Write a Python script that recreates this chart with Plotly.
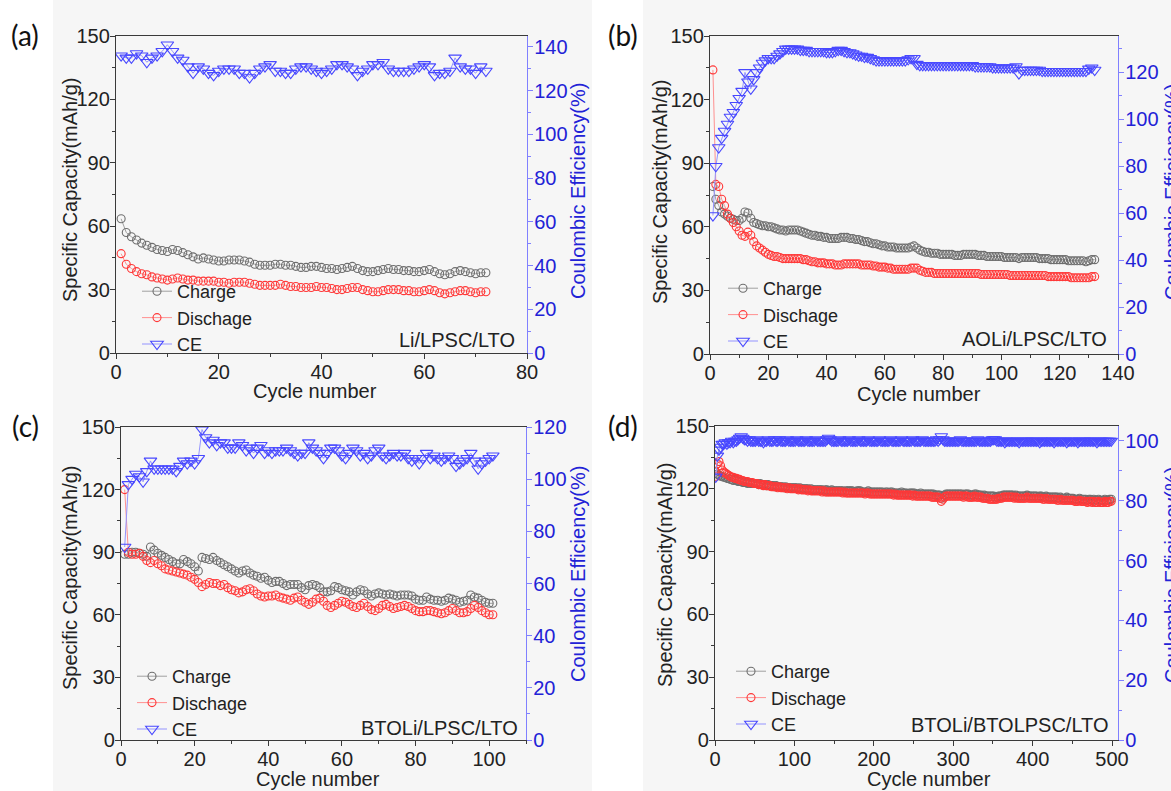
import plotly.graph_objects as go

# ---------------- data ----------------
# (a) Li/LPSC/LTO
a_charge = [63.5,57.0,55.0,53.5,52.0,51.0,50.0,49.0,48.5,48.0,
            49.0,48.5,47.5,46.5,45.5,44.5,45.0,44.5,44.0,43.5,
            43.5,44.0,44.0,44.0,43.5,43.0,42.0,41.5,41.5,41.5,
            42.0,42.0,41.5,41.5,41.0,40.5,40.5,41.0,41.0,40.5,
            40.0,40.0,39.5,40.0,40.5,41.0,40.0,39.0,38.5,38.5,
            39.0,39.5,40.0,39.5,39.5,39.0,39.0,38.5,38.5,39.0,
            39.5,38.5,37.5,37.0,37.5,38.5,39.0,38.5,38.0,37.5,
            38.0,38.0]
a_discharge = [47.0,42.0,40.0,38.5,37.5,37.0,36.0,35.5,35.0,34.5,
               35.0,35.5,35.0,34.5,34.5,34.0,34.0,34.0,34.0,33.5,
               33.5,33.0,33.5,33.5,33.5,33.0,32.5,32.0,32.0,32.0,
               32.0,32.5,32.0,31.5,31.5,31.0,31.0,31.0,31.5,31.0,
               31.0,30.5,30.0,30.0,30.5,31.0,31.0,30.0,29.5,29.0,
               29.0,29.5,30.0,30.0,30.0,29.5,29.5,29.0,29.0,29.5,
               30.0,29.5,28.5,28.0,28.5,29.0,29.5,29.5,29.0,28.5,
               29.0,29.0]
a_ce = [136,135,135,137,136,133,135,136,138,141,
        138,135,134,131,128,131,130,128,127,129,
        130,130,130,128,128,126,128,130,131,132,
        129,129,128,128,130,131,131,130,129,128,
        129,130,132,132,131,130,127,129,130,132,
        132,133,130,129,129,129,129,130,131,132,
        131,127,128,128,129,135,131,130,130,128,
        131,129]

# (b) AOLi/LPSC/LTO
b_charge = [79,73,70,67,66,65,64,63.5,63,63,
            64,67,66.5,64,62,61.5,61,60.5,60.5,60,
            60,59.5,59,58.5,58.5,58,58.5,58.5,58.5,58.5,
            58,57.5,57,56.5,56,56,55.5,55.5,55,55,
            54.5,54.5,54.5,54.5,55,55,55,54.5,54.5,54,
            54,53.5,53,53,52.5,52,52,51.5,51,51,
            50.5,50.5,50.5,50,50,50,50,50,50.5,51,
            50,49,48.5,48,48,47.5,47.5,47.5,47,47,
            47,47,47,46.5,46.5,46.5,47,47,47,47,
            47,46.5,46.5,46.5,46,46,46,46,46,46,
            45.5,45.5,45.5,45.5,45.5,45,45.5,45.5,45.5,45.5,
            45.5,45.5,45,45,45,45,44.5,44.5,44.5,44.5,
            44.5,44.5,44,44,44,44,44,44,43.5,44,
            44.5,44.5]
b_discharge = [134,80,79,73,70,66,64,62,60,58,
               56,55.5,57.5,56,53,51,50,49,48,47,
               46.5,46,46,45.5,45,45,45,45,45,45,
               45,44.5,44.5,44,43.5,43.5,43,43,43,42.5,
               42.5,42.5,42,42,42,42.5,42.5,42.5,42.5,42.5,
               42.5,42,42,42,42,41.5,41.5,41,41,41,
               40.5,40.5,40,40,40,40,40,40,40.5,40.5,
               40.5,39.5,39,38.5,38.5,38.5,38,38,38,38,
               38,38,38,38,38,38,38,38,38,38,
               38,38,37.5,37.5,37.5,37.5,37.5,37.5,37.5,37.5,
               37.5,37.5,37,37,37,37,37,37,37,37,
               37,37,37,37,37,36.5,36.5,36.5,36.5,36.5,
               36.5,36.5,36.5,36,36,36,36,36,36,36,
               36.5,36.5]
b_ce = [59,80,88,92,95,98,101,103,106,109,
        112,120,116,113,117,120,122,124,125,126,
        126,126,127,128,129,130,130,130,130,130,
        129.5,129.5,129.5,129,129,129,129,129,129,128.5,
        128.5,128.5,129,129.5,129.5,129,128.5,128.5,128,127.5,
        127,127,126.5,126.5,126,125.5,125,125,125,125,
        125,125,125,125,125,125,125,125.5,126,126,
        123.5,123,123,123,123,123,123,123,123,123,
        123,123,123,123,123,123,123,123,123,123,
        122.5,122.5,122.5,122.5,122.5,122.5,122,122,122,122,
        122,122,122,122,122.5,119.5,121,121,121,121,
        121,121,121,120.5,120.5,120.5,120.5,120.5,120.5,120.5,
        120.5,120.5,120.5,120.5,120.5,120.5,120.5,120.5,120.5,121.5,
        122,121]

# (c) BTOLi/LPSC/LTO
c_charge = [89,89,90,90,89.5,89,88,92.5,91,89.5,
            88.5,87.5,86.5,85.5,84.5,84.5,86.5,85.5,84.5,83,
            81,87.5,87,86.5,87.5,86,85,84,83,82,
            81,80,81,81.5,80,79,78.5,77.5,78,76.5,
            75.5,76,76,75,74,74.5,74.5,74.5,73,72,
            74,74.5,74,73,71,71,71.5,73.5,73,72,
            71.5,71,69.5,71,72,71.5,70,69,70,70.5,
            70,69.5,70,69.5,69,69.5,69.5,69.5,69,67.5,
            67,67,68.5,67.5,67,67,66.5,67,68,67.5,
            67,66,66.5,67,69.5,68.5,68,67,66,65.5,
            65.5]
c_discharge = [120,90,89,89,89.5,88,86,85,86,84.5,
               83.5,82,81.5,81,80.5,80,79.5,79,78,77,
               75.5,73.5,74.5,75.5,75,75,74,74.5,73,72,
               71.5,70.5,71,72,72.5,71.5,70,69,68.5,69,
               69,69.5,68.5,68,67.5,67,68,68.5,67,66,
               65,66,67.5,68,66.5,64.5,63.5,64.5,65.5,66.5,
               66,65,64,63.5,64.5,65.5,64,62.5,62,63,
               64.5,65,64,63,63.5,64,64.5,64,63,62,
               61.5,61.5,62,62,61.5,61,60.5,61,62,63,
               62,61,61,61.5,63,64.5,63.5,62,61,60,
               60]
c_ce = [74,98,100,102,101,99,103,107,104,104,
        104,104,104,104,103,105,107,106,107,106,
        108,119,116,114,115,113,114,114,112,112,
        112,114,113,111,112,110,112,113,110,111,
        110,111,111,111,112,111,110,109,110,110,
        114,112,111,110,108,110,112,112,111,109,
        108,110,112,111,109,110,108,109,111,112,
        109,108,109,110,109,109,110,108,107,108,
        106,108,110,108,109,108,107,108,109,108,
        105,106,107,108,110,107,104,106,107,108,
        109]

# (d) BTOLi/BTOLPSC/LTO  (odd cycles 1..499)
d_charge = [128,127,126.5,126,126,125.5,125.5,125,125,124.5,124.5,124,124.5,124,123.5,123.5,123.5,123,123,123,122.5,123,122.5,122.5,122.5,
            122.5,122.5,122,122.5,122,122,122,121.5,122,121.5,121.5,121.5,121,121.5,121,121,121,121,120.5,121,120.5,120.5,120.5,120.5,120.5,
            120.5,120.5,120,120.5,120,120,120,120,120,119.5,120,119.5,119.5,119.5,119.5,119.5,119.5,119.5,119,119.5,119.5,119,119,119.5,119,
            119,119,119,119,119,119,118.5,119,119,119,119,119,118.5,118.5,119,119,119,118.5,118.5,118.5,118.5,119,118.5,118.5,118.5,
            118.5,118.5,118.5,118.5,118.5,118.5,118,118.5,118.5,118,118.5,118.5,118,118,118,118,118,118.5,118,118,118,117.5,118,118,118,
            118,117.5,117.5,117.5,118,117.5,117.5,117.5,117.5,117.5,117.5,117.5,117.5,117,117,117,117,115.5,116.5,117,117.5,117.5,117.5,117.5,117.5,
            117.5,117.5,117.5,117.5,117.5,117.5,117,117.5,117.5,117.5,117,117,117,117.5,117.5,117,117,117,116.5,117,116.5,116.5,116.5,116.5,116.5,
            116.5,116,116,116.5,116.5,116.5,117,117,117,117,117,117,117,116.5,117,116.5,116.5,116.5,116.5,116.5,116.5,117,116.5,116.5,116.5,
            116.5,116.5,116.5,116,116.5,116.5,116,116,116.5,116,116,116,116,116,116,116,115.5,116,115.5,115.5,115.5,116,115.5,115.5,115.5,
            115.5,115,115,115,115.5,115,115,115,115,114.5,115,115,114.5,115,114.5,114.5,115,114.5,114.5,114.5,115,114.5,114.5,115,115]
d_discharge = [126,132,133,131,129,128,127.5,127,126.5,126,125.5,125.5,125,125,124.5,124.5,124,124,123.5,123.5,123.5,123,123,123,122.5,
               122.5,122.5,122,122,122,121.5,122,121.5,121.5,121.5,121,121,121,121,120.5,121,120.5,120.5,120.5,120.5,120,120.5,120,120,120,
               120,120,119.5,120,119.5,119.5,119.5,119.5,119,119.5,119,119,119,119,119,119,119,118.5,119,118.5,118.5,118.5,118.5,118.5,118.5,
               118.5,118.5,118.5,118.5,118.5,118,118.5,118,118,118,118,118,118,118,118,118,118,118,118,117.5,118,118,117.5,117.5,117.5,
               117.5,117.5,117.5,117.5,117.5,117.5,117.5,117.5,117.5,117.5,117.5,117.5,117,117.5,117,117,117,117,117,117,117,117,117,117,116.5,
               117,116.5,116.5,116.5,116.5,116.5,116.5,116.5,116.5,116.5,116.5,116,116,116,116,116,115.5,114,115,116,116.5,116.5,116.5,116.5,116.5,
               116.5,116.5,116.5,116.5,116.5,116.5,116,116.5,116.5,116,116,116,116,116.5,116,116,116,116,115.5,115.5,115.5,115.5,115,115,115,
               115,115,115,115.5,115.5,115.5,116,116,116,116,116,116,116,115.5,116,115.5,115.5,115.5,115.5,115.5,115.5,116,115.5,115.5,115.5,
               115.5,115.5,115.5,115.5,115.5,115.5,115,115,115.5,115,115,115,115,115,115,114.5,114.5,115,114.5,114.5,114.5,114.5,114.5,114.5,114.5,
               114.5,114,114,114,114.5,114,114,114,114,113.5,114,114,113.5,114,113.5,113.5,114,113.5,113.5,113.5,114,113.5,113.5,114,114]
d_ce = [88,95,97,98,99,99,99.5,99,99.5,99.5,100,99.5,100,100,100.5,101,101.5,101,100.5,100.5,100,100.5,100,100,100,
        100,100.5,100,100,100,99.5,100,100,100.5,100,100,100,100.5,100,100,100.5,100,100,100,100,100.5,100,100,100,100,
        100,100.5,100,100,100,100,100,100.5,100,100,100,100,100,100.5,100,100,100,100,100,100,100.5,101,100.5,100,100,
        100,100,100,100.5,100,100,100,100,100,100.5,100,100,100,100,100,100.5,100,100,100,100,100,100.5,100,100,100,
        100,100,100,100.5,100,100,100,100,100,100,100.5,100,100,100,100,100,100,100.5,100,100,100,100,100,100,100.5,
        100,100,100,100,100,100.5,100,100,100,100,100,100,100,100,100.5,100,100.5,101.5,100.5,100,100,100,100,100,100,
        100,100,100,100,100.5,100,100,100,100,100,100,100,100,100,100,100.5,100,100,100,100,100,100,100,100,100.5,
        100.5,100.5,100,100,100,100,100,99.5,100,100,100,100,100,100,100,100,99.5,100,100,100,100,100,100,100,100,
        100,100,100,100,99.5,100,100,100,100,100,100,100,100,99.5,100,100,100,100,100,100,100,99.5,100,100,100,
        100,100,100,99.5,100,100,100,100,100,100,100,100,100,100,100,99.5,100,100,100,100,100,100,100,100,100]

a_cycles = list(range(1, len(a_charge) + 1))
b_cycles = list(range(1, len(b_charge) + 1))
c_cycles = list(range(1, len(c_charge) + 1))
d_cycles = list(range(1, 2 * len(d_charge), 2))

series_names = ["Charge", "Dischage", "CE"]
panel_labels = ["(a)", "(b)", "(c)", "(d)"]
cell_names = ["Li/LPSC/LTO", "AOLi/LPSC/LTO", "BTOLi/LPSC/LTO", "BTOLi/BTOLPSC/LTO"]
x_title = "Cycle number"
y_title = "Specific Capacity(mAh/g)"
y2_title = "Coulombic Efficiency(%)"

# ---------------- layout helpers ----------------
W, H = 1171, 791
def fx(p): return p / W
def fy(p): return 1 - p / H

FONT = "Arial, Liberation Sans, sans-serif"
AX = "#3a3a3a"
BLUE_AX = "#8080ff"
BLUE_TXT = "#2222d6"
TXT = "#222222"
C_CHG = "#6e6e6e"
C_DIS = "#ff3838"
C_CE = "#4848ff"

panels = [
    dict(x=a_cycles, ch=a_charge, dis=a_discharge, ce=a_ce,
         px=(116, 527), py=(36, 353), xr=[0, 80], xd=20, xm=10, cer=[0, 145],
         lab=(25, 35), note_shift=(-10, 13), leg=(137, 318),
         t_x=(315, 391), t_y=(70, 190), t_y2=(578, 191)),
    dict(x=b_cycles, ch=b_charge, dis=b_discharge, ce=b_ce,
         px=(710, 1118), py=(36, 354), xr=[0, 140], xd=20, xm=10, cer=[0, 135.5],
         lab=(623, 35), note_shift=(-9, 15), leg=(723, 315),
         t_x=(919, 394), t_y=(660, 192), t_y2=(1172, 192)),
    dict(x=c_cycles, ch=c_charge, dis=c_discharge, ce=c_ce,
         px=(121, 526), py=(427, 740), xr=[0, 110], xd=20, xm=10, cer=[0, 120],
         lab=(25, 426), note_shift=(-6, 12), leg=(132, 703),
         t_x=(318, 779), t_y=(70, 578), t_y2=(578, 574)),
    dict(x=d_cycles, ch=d_charge, dis=d_discharge, ce=d_ce,
         px=(715, 1118), py=(426, 740), xr=[0, 507.5], xd=100, xm=50, cer=[0, 105],
         lab=(623, 426), note_shift=(-8, 15), leg=(731, 698),
         t_x=(929, 779), t_y=(665, 575), t_y2=(1172, 575)),
]

fig = go.Figure()
layout = dict(
    width=W, height=H,
    margin=dict(l=0, r=0, t=0, b=0),
    paper_bgcolor="white",
    plot_bgcolor="rgba(0,0,0,0)",
    font=dict(family=FONT, size=20, color=TXT),
    showlegend=True,
)
shapes = [
    dict(type="rect", xref="paper", yref="paper", x0=fx(53), x1=fx(592), y0=0, y1=1,
         fillcolor="#f6f6f6", line=dict(width=0), layer="below"),
    dict(type="rect", xref="paper", yref="paper", x0=fx(643), x1=1, y0=0, y1=1,
         fillcolor="#f6f6f6", line=dict(width=0), layer="below"),
]
annotations = []

def txt(text, x, y, angle=0, color=TXT, size=20, family=FONT):
    return dict(text=text, xref="paper", yref="paper", x=fx(x), y=fy(y),
                xanchor="center", yanchor="middle", textangle=angle,
                showarrow=False, font=dict(size=size, color=color, family=family))

for i, p in enumerate(panels):
    n = i + 1
    xa = "x" if n == 1 else f"x{n}"
    ya = "y" if n == 1 else f"y{2*n-1}"
    ya2 = f"y{2*n}"
    leg = "legend" if n == 1 else f"legend{n}"
    xkey = "xaxis" if n == 1 else f"xaxis{n}"
    ykey = "yaxis" if n == 1 else f"yaxis{2*n-1}"
    y2key = f"yaxis{2*n}"

    fig.add_trace(go.Scatter(x=p["x"], y=p["ch"], name=series_names[0], mode="lines+markers",
                             xaxis=xa, yaxis=ya, legend=leg,
                             line=dict(color="#a0a0a0", width=1),
                             marker=dict(symbol="circle-open", size=8, color=C_CHG, line=dict(width=1.1))))
    fig.add_trace(go.Scatter(x=p["x"], y=p["dis"], name=series_names[1], mode="lines+markers",
                             xaxis=xa, yaxis=ya, legend=leg,
                             line=dict(color="#ff9090", width=1),
                             marker=dict(symbol="circle-open", size=8, color=C_DIS, line=dict(width=1.1))))
    fig.add_trace(go.Scatter(x=p["x"], y=p["ce"], name=series_names[2], mode="lines+markers",
                             xaxis=xa, yaxis=ya2, legend=leg,
                             line=dict(color="#9494ff", width=1),
                             marker=dict(symbol="triangle-down-open", size=11, color=C_CE, line=dict(width=1.1))))

    xdom = [fx(p["px"][0]), fx(p["px"][1])]
    ydom = [fy(p["py"][1]), fy(p["py"][0])]

    layout[xkey] = dict(
        domain=xdom, anchor=ya, range=p["xr"], dtick=p["xd"], tick0=0,
        showline=True, linecolor=AX, linewidth=1.3, mirror=True,
        ticks="outside", ticklen=5, tickwidth=1.2, tickcolor=AX,
        minor=dict(dtick=p["xm"], ticks="outside", ticklen=3, tickcolor=AX, showgrid=False),
        showgrid=False, zeroline=False, automargin=False,
        ticklabelstandoff=-4,
        tickfont=dict(size=20, color=TXT),
    )
    layout[ykey] = dict(
        domain=ydom, anchor=xa, range=[0, 150], dtick=30, tick0=0,
        showline=True, linecolor=AX, linewidth=1.3,
        ticks="outside", ticklen=5, tickwidth=1.2, tickcolor=AX,
        minor=dict(dtick=15, ticks="outside", ticklen=3, tickcolor=AX, showgrid=False),
        showgrid=False, zeroline=False, automargin=False,
        ticklabelstandoff=-4,
        tickfont=dict(size=20, color=TXT),
    )
    layout[y2key] = dict(
        domain=ydom, anchor=xa, overlaying=ya, side="right", range=p["cer"], dtick=20, tick0=0,
        showline=True, linecolor=BLUE_AX, linewidth=1.3,
        ticks="outside", ticklen=5, tickwidth=1.2, tickcolor=BLUE_AX,
        minor=dict(dtick=10, ticks="outside", ticklen=3, tickcolor=BLUE_AX, showgrid=False),
        showgrid=False, zeroline=False, automargin=False,
        ticklabelstandoff=-3,
        tickfont=dict(size=20, color=BLUE_TXT),
    )
    layout[leg] = dict(
        x=fx(p["leg"][0]), y=fy(p["leg"][1]), xanchor="left", yanchor="middle",
        xref="paper", yref="paper",
        bgcolor="rgba(0,0,0,0)", borderwidth=0,
        font=dict(size=18, color=TXT, family=FONT),
        tracegroupgap=0, itemsizing="trace",
    )
    annotations.append(txt(panel_labels[i], p["lab"][0], p["lab"][1], size=28,
                           family="Lato, Open Sans, sans-serif", color="#111111"))
    annotations.append(txt(x_title, p["t_x"][0], p["t_x"][1]))
    annotations.append(txt(y_title, p["t_y"][0], p["t_y"][1], angle=-90))
    annotations.append(txt(y2_title, p["t_y2"][0], p["t_y2"][1], angle=-90, color=BLUE_TXT))
    annotations.append(dict(
        text=cell_names[i], xref=f"{xa} domain", yref=f"{ya} domain",
        x=1, y=0, xanchor="right", yanchor="middle",
        xshift=p["note_shift"][0], yshift=p["note_shift"][1],
        showarrow=False, font=dict(size=20, color=TXT, family=FONT)))

layout["shapes"] = shapes
layout["annotations"] = annotations
fig.update_layout(**layout)

fig.write_html("out.html", config={"displayModeBar": False},
               post_script="document.body.style.margin='0px';")
